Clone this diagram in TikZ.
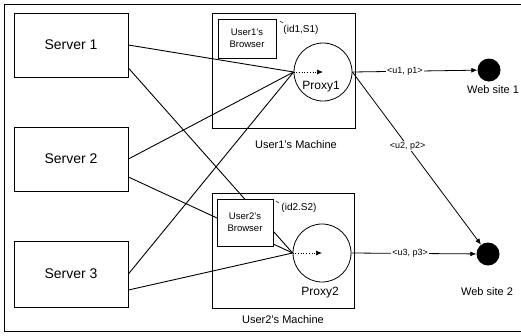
\documentclass[tikz,border=0pt]{standalone}
\usepackage{fontspec}
\setmainfont{Liberation Sans}
\usetikzlibrary{arrows.meta}
\begin{document}
\begin{tikzpicture}[x=1pt,y=-1pt,
  box/.style={draw, line width=0.8pt, fill=white, inner sep=0pt},
  server/.style={box, minimum width=114pt, minimum height=64pt,
    font=\fontsize{14}{16}\selectfont},
  browser/.style={box, align=center, font=\fontsize{9.5}{12}\selectfont},
  machine/.style={draw, line width=0.8pt},
  proxy/.style={draw, circle, line width=0.8pt, minimum size=58pt, inner sep=0pt},
  site/.style={circle, fill=black, minimum size=23pt, inner sep=0pt},
  conn/.style={line width=0.9pt},
  flow/.style={line width=0.8pt, -{Latex[length=6pt,width=5pt]}},
  inner/.style={dotted, line width=0.7pt, -{Latex[length=6pt,width=5pt]}},
  tag/.style={fill=white, inner sep=1pt, font=\fontsize{9}{10}\selectfont},
  lbl/.style={inner sep=0pt, font=\fontsize{11}{13}\selectfont},
  idlbl/.style={inner sep=0pt, font=\fontsize{10}{12}\selectfont}]
\useasboundingbox (0,0) rectangle (521,335);

% outer frame, open on the right
\draw[line width=0.6pt] (522,4) -- (4,4) -- (4,331) -- (522,331);

% servers
\node[server] (s1) at (71,45) {Server 1};
\node[server] (s2) at (71,159) {Server 2};
\node[server, minimum height=66pt] (s3) at (71,274) {Server 3};

% user machines
\draw[machine] (212,13) rectangle (355,128);
\draw[machine] (212,193) rectangle (354,308);
\node[lbl] (m1) at (296,145) {User1's Machine};
\node[lbl] (m2) at (283,320) {User2's Machine};

% proxies and web sites
\node[proxy] (p1) at (323,72) {};
\node[proxy] (p2) at (322,253) {};
\node[lbl, font=\fontsize{12}{14}\selectfont] (p1l) at (321,87) {Proxy1};
\node[lbl, font=\fontsize{12}{14}\selectfont] (p2l) at (320,293) {Proxy2};
\node[site] (w1) at (489,70) {};
\node[site] (w2) at (488,254) {};
\node[lbl] (w1l) at (493,90) {Web site 1};
\node[lbl] (w2l) at (487,292) {Web site 2};

% server connections to both proxies
\draw[conn] (s1.east) -- (p1.west);
\draw[conn] ([yshift=-23pt]s1.east) -- (p2.west);
\draw[conn] (s2.east) -- (p1.west);
\draw[conn] ([yshift=-18pt]s2.east) -- (p2.west);
\draw[conn] (s3.east) -- (p1.west);
\draw[conn] ([yshift=-16pt]s3.east) -- (p2.west);

% browsers sit on top of the connections
\node[browser, minimum width=58pt, minimum height=39pt] (b1) at (247,38.5) {User1's\\Browser};
\node[browser, minimum width=56pt, minimum height=47pt] (b2) at (245,222.5) {User2's\\Browser};

% session ids
\node[idlbl] (id1) at (301,30) {(id1,S1)};
\node[idlbl] (id2) at (299,208) {(id2.S2)};
\coordinate (t1a) at (280,21);
\coordinate (t1b) at (283,23);
\coordinate (t2a) at (276,201);
\coordinate (t2b) at (279,203);
\draw[line width=0.5pt] (t1a) -- (t1b);
\draw[line width=0.5pt] (t2a) -- (t2b);

% forwarding inside each proxy
\draw[inner] (p1.west) -- (p1.center);
\draw[inner] (p2.west) -- (p2.center);

% requests to the web sites
\draw[flow] (p1.east) -- node[tag, pos=0.42] {<u1, p1>} (w1);
\draw[flow] (p1.east) -- node[tag, pos=0.43] {<u2, p2>} (w2);
\draw[flow] (p2.east) -- node[tag, pos=0.47] {<u3, p3>} (w2);
\end{tikzpicture}
\end{document}
